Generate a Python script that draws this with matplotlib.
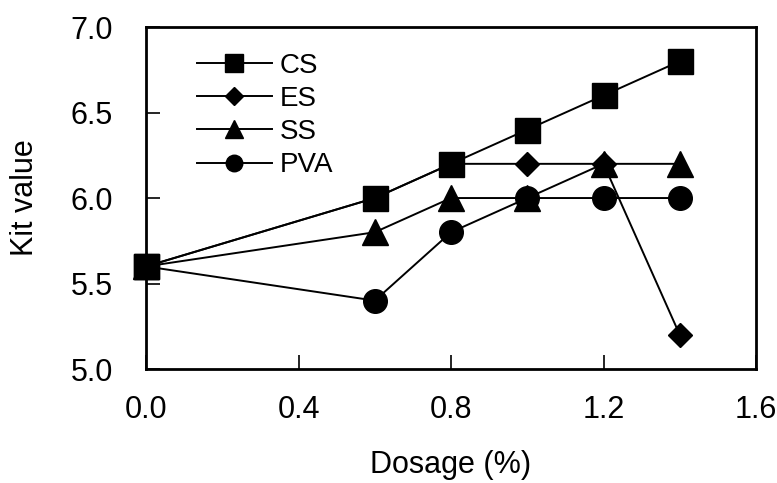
import matplotlib.pyplot as plt

plt.rcParams['font.family'] = ['Liberation Sans', 'DejaVu Sans']

dosage = [0.0, 0.6, 0.8, 1.0, 1.2, 1.4]
cs = [5.6, 6.0, 6.2, 6.4, 6.6, 6.8]
es = [5.6, 6.0, 6.2, 6.2, 6.2, 5.2]
ss = [5.6, 5.8, 6.0, 6.0, 6.2, 6.2]
pva = [5.6, 5.4, 5.8, 6.0, 6.0, 6.0]

fig = plt.figure(figsize=(7.77, 4.83), dpi=100)
ax = fig.add_axes([0.188, 0.236, 0.785, 0.708])

ax.plot(dosage, cs, color='black', lw=1.4, marker='s', ms=18, label='CS', clip_on=False)
ax.plot(dosage, es, color='black', lw=1.4, marker='D', ms=12.5, label='ES', clip_on=False)
ax.plot(dosage, ss, color='black', lw=1.4, marker='^', ms=19, label='SS', clip_on=False)
ax.plot(dosage, pva, color='black', lw=1.4, marker='o', ms=17, label='PVA', clip_on=False)
# square at x=0 sits on top in the reference
ax.plot(dosage[:1], cs[:1], color='black', marker='s', ms=18, ls='none', clip_on=False, zorder=5)

ax.set_xlim(0, 1.6)
ax.set_ylim(5.0, 7.0)
ax.set_xticks([0.0, 0.4, 0.8, 1.2, 1.6])
ax.set_yticks([5.0, 5.5, 6.0, 6.5, 7.0])
ax.set_xticklabels(['0.0', '0.4', '0.8', '1.2', '1.6'])
ax.set_yticklabels(['5.0', '5.5', '6.0', '6.5', '7.0'])
ax.tick_params(direction='in', length=10, width=1.2, labelsize=22)
ax.tick_params(axis='y', pad=24)
ax.tick_params(axis='x', pad=19)
for s in ax.spines.values():
    s.set_linewidth(2)

ax.set_xlabel('Dosage (%)', fontsize=22, labelpad=18)
ax.set_ylabel('Kit value', fontsize=22, labelpad=22)

ax.legend(loc='upper left', bbox_to_anchor=(0.083, 0.925), frameon=False,
          fontsize=20, markerscale=0.7, handlelength=2.7, handletextpad=0.3,
          labelspacing=0.26, borderpad=0, borderaxespad=0)

fig.savefig('out.png', dpi=100)
